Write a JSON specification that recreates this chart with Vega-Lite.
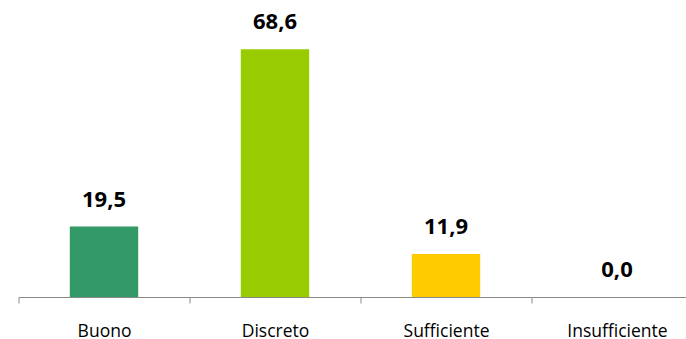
{
  "$schema": "https://vega.github.io/schema/vega-lite/v6.json",
  "width": 684,
  "height": 289,
  "autosize": {"type": "none"},
  "padding": {"left": 18.5, "top": 8, "right": 0, "bottom": 42},
  "background": "white",
  "data": {"values": [
    {"cat": "Buono", "val": 19.5, "label": "19,5"},
    {"cat": "Discreto", "val": 68.6, "label": "68,6"},
    {"cat": "Sufficiente", "val": 11.9, "label": "11,9"},
    {"cat": "Insufficiente", "val": 0.0, "label": "0,0"}
  ]},
  "config": {"view": {"stroke": null}, "font": "Open Sans"},
  "encoding": {
    "x": {"field": "cat", "type": "nominal", "sort": null,
      "scale": {"paddingInner": 0.6, "paddingOuter": 0.3},
      "axis": {"title": null, "labelAngle": 0, "tickOffset": -85.5, "labelOffset": 85.5,
        "domainColor": "#898989", "tickColor": "#898989", "tickSize": 6,
        "labelFont": "Open Sans", "labelFontSize": 17.5, "labelColor": "#000000",
        "labelPadding": 19}},
    "y": {"field": "val", "type": "quantitative",
      "scale": {"domain": [0, 80]}, "axis": null}
  },
  "layer": [
    {"mark": {"type": "bar"},
     "encoding": {"color": {"field": "cat", "type": "nominal", "legend": null,
       "scale": {"domain": ["Buono", "Discreto", "Sufficiente", "Insufficiente"],
                 "range": ["#339966", "#99CC00", "#FFCC00", "#FF6600"]}}}},
    {"mark": {"type": "text", "dy": -20, "baseline": "alphabetic", "fontSize": 22, "fontWeight": "bold", "font": "Open Sans", "color": "#000000"},
     "encoding": {"text": {"field": "label"}}}
  ]
}
